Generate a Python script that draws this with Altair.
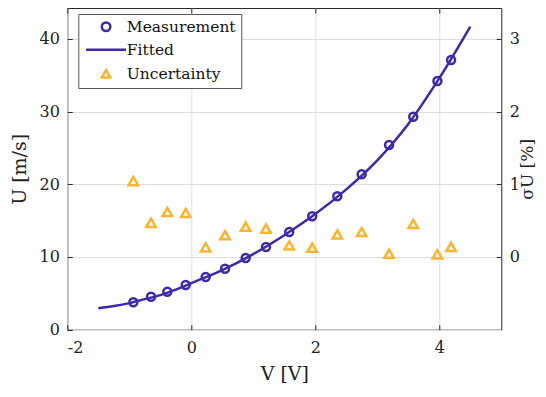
import altair as alt
import pandas as pd

# ---- data ----
V_meas = [-0.935, -0.65, -0.387, -0.09, 0.232, 0.544, 0.877, 1.205, 1.58, 1.95,
          2.355, 2.748, 3.19, 3.58, 3.97, 4.19]
U_meas = [3.77, 4.54, 5.23, 6.15, 7.25, 8.39, 9.86, 11.38, 13.44, 15.6,
          18.35, 21.38, 25.4, 29.3, 34.2, 37.1]
sigma_U = [1.045, 0.47, 0.62, 0.605, 0.133, 0.30, 0.417, 0.39, 0.16, 0.128,
           0.31, 0.344, 0.045, 0.454, 0.037, 0.138]
V_fit = [-1.5, -1.25, -1.0, -0.75, -0.5, -0.25, 0.0, 0.5, 1.0, 1.5, 2.0, 2.5,
         3.0, 3.5, 4.0, 4.5]
U_fit = [2.95, 3.25, 3.65, 4.2, 4.75, 5.5, 6.4, 8.2, 10.4, 13.0, 15.9, 19.3,
         23.3, 28.3, 34.6, 41.7]

x_ticks = [-2, 0, 2, 4]
yl_ticks = [0, 10, 20, 30, 40]
yr_ticks = [0, 1, 2, 3]

series_names = ["Measurement", "Fitted", "Uncertainty"]
series_colors = ["#3C2BA8", "#3C2BA8", "#F8B530"]
series_shapes = ["circle", "M-4.7,0L4.7,0", "triangle-up"]

meas_df = pd.DataFrame({"V": V_meas, "U": U_meas, "series": "Measurement"})
unc_df = pd.DataFrame({"V": V_meas, "s": sigma_U, "series": "Uncertainty"})
fit_df = pd.DataFrame({"V": V_fit, "U": U_fit, "series": "Fitted"})

FONT = "DejaVu Serif"
W, H = 434, 321.7
TXT = "#222222"
FRAME = "#262626"

x_scale = alt.Scale(domain=[-2, 5], nice=False, zero=False)
yl_scale = alt.Scale(domain=[0, 44.25], nice=False, zero=False)
yr_scale = alt.Scale(domain=[-1, 3.425], nice=False, zero=False)

color_enc = alt.Color("series:N", scale=alt.Scale(domain=series_names, range=series_colors),
                      legend=alt.Legend(title=None, orient="none", legendX=11, legendY=6,
                                        padding=5, rowPadding=6,
                                        strokeColor="#555555", fillColor="white",
                                        labelFont=FONT, labelFontSize=15.5, labelColor="#111",
                                        symbolSize=72, symbolStrokeWidth=2.5,
                                        symbolOffset=15, labelOffset=13,
                                        symbolFillColor="transparent"))
shape_enc = alt.Shape("series:N", scale=alt.Scale(domain=series_names, range=series_shapes),
                      legend=alt.Legend(title=None, orient="none", legendX=11, legendY=6))


def tick_axis(orient, values):
    # short inward-pointing ticks (MATLAB style box ticks)
    return alt.Axis(values=values, orient=orient, offset=-5, tickSize=5, tickWidth=1,
                    tickColor=FRAME, labels=False, domain=False, grid=False, title=None)


x_main = alt.X("V:Q", scale=x_scale,
               axis=alt.Axis(values=x_ticks, title="V  [V]", labelExpr="'' + datum.value",
                             grid=True, gridColor="#dedede", domain=False, ticks=False,
                             labelPadding=10, titlePadding=9, labelFontSize=16,
                             titleFontSize=19, labelFont=FONT, titleFont=FONT,
                             labelColor=TXT, titleColor=TXT, titleFontWeight="normal"))

yl_main = alt.Y("U:Q", scale=yl_scale,
                axis=alt.Axis(values=yl_ticks, title="U  [m/s]", grid=True, gridColor="#dedede",
                              domain=False, ticks=False, labelPadding=8, titlePadding=9,
                              labelFontSize=16, titleFontSize=19, labelFont=FONT,
                              titleFont=FONT, labelColor=TXT, titleColor=TXT,
                              titleFontWeight="normal"))

line = alt.Chart(fit_df).mark_line(strokeWidth=2.5, interpolate="monotone").encode(
    x=x_main,
    y=yl_main,
    color=color_enc,
)

circles = alt.Chart(meas_df).mark_point(filled=False, size=64, strokeWidth=2.5, opacity=1).encode(
    x=alt.X("V:Q", scale=x_scale, axis=tick_axis("top", x_ticks)),
    y=alt.Y("U:Q", scale=yl_scale, axis=tick_axis("left", yl_ticks)),
    color=color_enc,
    shape=shape_enc,
)

tri = alt.Chart(unc_df).mark_point(filled=False, size=90, strokeWidth=2.5, opacity=1).encode(
    x=alt.X("V:Q", scale=x_scale, axis=tick_axis("bottom", x_ticks)),
    y=alt.Y("s:Q", scale=yr_scale,
            axis=alt.Axis(values=yr_ticks, orient="right", title="σU  [%]", grid=False,
                          domain=False, ticks=False, labelPadding=8,
                          titleX=26, titleY=H / 2, titleAlign="center",
                          titleBaseline="middle",
                          titleAngle=270, labelFontSize=16, titleFontSize=17,
                          labelFont=FONT, titleFont=FONT, labelColor=TXT,
                          titleColor=TXT, titleFontWeight="normal")),
    color=color_enc,
    shape=shape_enc,
)

# invisible layer that only carries the inward ticks of the right axis
rticks = alt.Chart(unc_df).mark_point(opacity=0).encode(
    x=alt.X("V:Q", scale=x_scale, axis=None),
    y=alt.Y("s:Q", scale=yr_scale, axis=tick_axis("right", yr_ticks)),
)

chart = alt.layer(line, circles, tri, rticks).resolve_scale(
    y="independent"
).resolve_axis(x="independent", y="independent").properties(
    width=W, height=H,
    autosize=alt.AutoSizeParams(type="none"),
    padding={"left": 59.3, "top": 0, "right": 36.7, "bottom": 59},
).configure_view(stroke=FRAME, strokeWidth=1)

chart.save("out.html", embed_options={"renderer": "svg", "actions": False})
